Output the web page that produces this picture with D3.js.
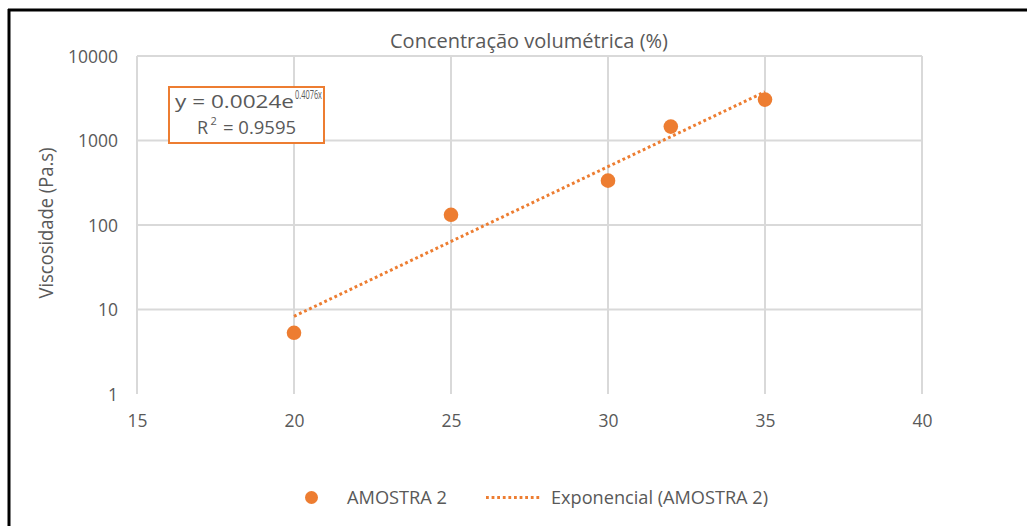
<!DOCTYPE html>
<html><head><meta charset="utf-8">
<script src="https://cdn.jsdelivr.net/npm/d3@7"></script>
<style>
html,body{margin:0;padding:0;background:#fff;}
svg{display:block;}
text{font-family:"Open Sans","Noto Sans",sans-serif;fill:#595959;}
</style></head>
<body>
<svg id="chart" width="1027" height="526"></svg>
<script>
const title = "Concentração volumétrica (%)";
const yTitle = "Viscosidade (Pa.s)";
const seriesName = "AMOSTRA 2";
const trendName = "Exponencial (AMOSTRA 2)";
const concentration = [20, 25, 30, 32, 35];
const viscosity = [5.3, 132, 335, 1460, 3050];
const trendX = [20, 35];
const trendY = [8.3, 3770];
const xTicks = [15, 20, 25, 30, 35, 40];
const yTicks = [1, 10, 100, 1000, 10000];
const eqCoef = "0.0024", eqExp = "0.4076x", rSquared = "0.9595";

const orange = "#ED7D31", grid = "#D9D9D9";
const svg = d3.select("#chart");

// frame border (top and left)
svg.append("line").attr("x1",8).attr("x2",1027).attr("y1",10).attr("y2",10).attr("stroke","#000").attr("stroke-width",3);
svg.append("line").attr("x1",9).attr("x2",9).attr("y1",9).attr("y2",526).attr("stroke","#000").attr("stroke-width",3);

const x = d3.scaleLinear().domain([15, 40]).range([137, 922]);
const y = d3.scaleLog().domain([1, 10000]).range([394, 56]);

// grid
svg.append("g").selectAll("line").data(yTicks.filter(d => d > 1)).join("line")
  .attr("x1", x(15)).attr("x2", x(40)).attr("y1", d => y(d)).attr("y2", d => y(d))
  .attr("stroke", grid).attr("stroke-width", 2);
svg.append("g").selectAll("line").data(xTicks).join("line")
  .attr("x1", d => x(d)).attr("x2", d => x(d)).attr("y1", y(1)).attr("y2", y(10000))
  .attr("stroke", grid).attr("stroke-width", 2);

const fam = "'Open Sans',sans-serif";
// axes labels via d3 axes
const yAxis = svg.append("g").attr("transform", `translate(${x(15)},0)`)
  .call(d3.axisLeft(y).tickValues(yTicks).tickFormat(d3.format("d")).tickSize(0).tickPadding(19));
yAxis.select(".domain").remove();
yAxis.selectAll("text").style("font-size","17.5px").attr("fill","#595959").style("font-family",fam)
  .attr("dy","0.36em")
  .each(function(d){ const s = String(d).length; d3.select(this).attr("textLength", s*10).attr("lengthAdjust","spacingAndGlyphs"); });

const xAxis = svg.append("g").attr("transform", `translate(0,${y(1)})`)
  .call(d3.axisBottom(x).tickValues(xTicks).tickFormat(d3.format("d")).tickSize(0).tickPadding(21));
xAxis.select(".domain").remove();
xAxis.selectAll("text").style("font-size","17.5px").attr("fill","#595959").style("font-family",fam)
  .attr("textLength", 20).attr("lengthAdjust","spacingAndGlyphs");

// titles
svg.append("text").attr("x", 529).attr("y", 48).attr("text-anchor","middle")
  .style("font-size","20px").attr("textLength",278).attr("lengthAdjust","spacingAndGlyphs").text(title);
svg.append("text").attr("transform","translate(53,223) rotate(-90)").attr("text-anchor","middle")
  .style("font-size","19.5px").attr("textLength",151).attr("lengthAdjust","spacingAndGlyphs").text(yTitle);

// trendline
svg.append("path").datum(trendX.map((d,i)=>[d, trendY[i]]))
  .attr("d", d3.line().x(d => x(d[0])).y(d => y(d[1])))
  .attr("fill","none").attr("stroke",orange).attr("stroke-width",3)
  .attr("stroke-dasharray","2.8 2.8").attr("stroke-linecap","butt");

// points
svg.append("g").selectAll("circle").data(concentration).join("circle")
  .attr("cx", d => x(d)).attr("cy", (d,i) => y(viscosity[i])).attr("r", 7.3).attr("fill", orange);

// equation box
svg.append("rect").attr("x",169).attr("y",87).attr("width",155).attr("height",56)
  .attr("fill","#fff").attr("stroke",orange).attr("stroke-width",2);
svg.append("text").attr("x",175).attr("y",108).style("font-size","19px")
  .attr("textLength",119).attr("lengthAdjust","spacingAndGlyphs").text("y = " + eqCoef + "e");
svg.append("text").attr("x",295).attr("y",99).style("font-size","12px")
  .attr("textLength",27).attr("lengthAdjust","spacingAndGlyphs").text(eqExp);
svg.append("text").attr("x",197).attr("y",134).style("font-size","18px").text("R");
svg.append("text").attr("x",210.5).attr("y",125).style("font-size","11px").text("2");
svg.append("text").attr("x",223).attr("y",134).style("font-size","18px")
  .attr("textLength",73).attr("lengthAdjust","spacingAndGlyphs").text("= " + rSquared);

// legend
svg.append("circle").attr("cx",311.5).attr("cy",497.5).attr("r",6.5).attr("fill",orange);
svg.append("text").attr("x",347).attr("y",504).style("font-size","19px")
  .attr("textLength",100).attr("lengthAdjust","spacingAndGlyphs").text(seriesName);
svg.append("line").attr("x1",486).attr("x2",541).attr("y1",497.5).attr("y2",497.5)
  .attr("stroke",orange).attr("stroke-width",3).attr("stroke-dasharray","2.8 2.8");
svg.append("text").attr("x",551).attr("y",504).style("font-size","19px")
  .attr("textLength",217).attr("lengthAdjust","spacingAndGlyphs").text(trendName);
</script>
</body></html>
